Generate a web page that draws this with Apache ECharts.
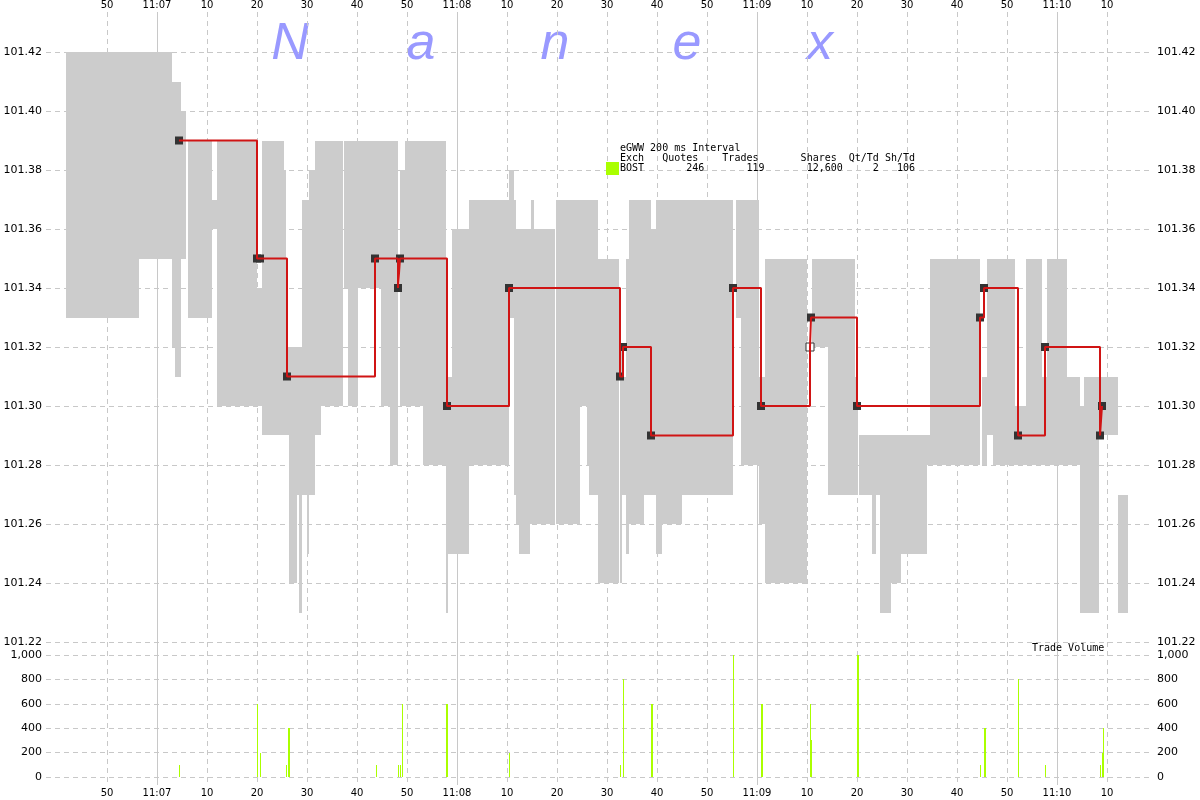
<!DOCTYPE html>
<html><head><meta charset="utf-8">
<script src="https://cdn.jsdelivr.net/npm/echarts@6/dist/echarts.min.js"></script>
<style>html,body{margin:0;padding:0;background:#fff}#c{width:1200px;height:800px}</style>
</head><body><div id="c"></div>
<script>
// time values are seconds after 11:06:00
const timeMin = 37.8, timeMax = 259.0;
const timeTicks = [50,60,70,80,90,100,110,120,130,140,150,160,170,180,190,200,210,220,230,240,250];

// BOST quote (bid/ask) bands
const quoteStart = [41.8,56.4,63.0,63.6,64.8,66.2,71.0,72.0,80.0,81.0,85.4,85.8,86.4,88.0,88.4,89.0,90.0,90.4,91.6,92.8,97.4,98.2,100.2,104.8,106.6,108.6,109.6,113.2,117.8,118.2,119.0,122.4,130.4,131.4,131.8,132.4,134.6,134.8,135.4,139.8,144.6,146.0,146.4,148.2,152.6,153.0,153.8,154.4,157.4,158.8,159.8,161.0,165.0,175.8,176.8,180.4,181.6,191.0,194.2,199.6,200.4,203.0,203.8,204.6,206.8,208.8,214.0,214.6,225.0,226.0,227.2,231.6,233.8,237.0,238.0,242.0,244.6,245.4,248.4,252.2];
const quoteEnd   = [56.4,63.0,63.6,64.8,65.8,71.0,72.0,80.0,81.0,85.4,85.8,86.4,88.0,88.4,89.0,90.0,90.4,91.6,92.8,97.2,98.2,100.2,104.8,106.6,108.2,109.6,113.2,117.8,118.2,119.0,122.4,130.4,131.4,131.8,132.4,134.6,134.8,135.4,139.6,144.6,146.0,146.4,148.2,152.4,153.0,153.8,154.4,157.4,158.8,159.8,161.0,165.0,175.2,176.8,180.4,181.6,190.0,194.2,199.6,200.2,203.0,203.8,204.6,206.8,208.8,214.0,214.6,224.6,226.0,227.2,231.6,233.8,237.0,238.0,242.0,244.6,245.4,248.4,252.2,254.2];
const quoteLow   = [101.33,101.35,101.32,101.31,101.35,101.33,101.36,101.30,101.30,101.29,101.29,101.29,101.24,101.27,101.23,101.27,101.25,101.27,101.29,101.30,101.34,101.30,101.34,101.30,101.28,101.30,101.30,101.28,101.23,101.25,101.25,101.28,101.33,101.27,101.26,101.25,101.26,101.26,101.26,101.26,101.30,101.28,101.27,101.24,101.24,101.27,101.25,101.26,101.27,101.27,101.25,101.26,101.27,101.33,101.28,101.26,101.24,101.32,101.27,101.27,101.27,101.25,101.27,101.23,101.24,101.25,101.28,101.28,101.28,101.29,101.28,101.28,101.28,101.28,101.28,101.28,101.23,101.23,101.29,101.23];
const quoteHigh  = [101.42,101.42,101.41,101.41,101.40,101.39,101.37,101.39,101.34,101.39,101.38,101.32,101.32,101.32,101.32,101.37,101.37,101.38,101.39,101.39,101.39,101.39,101.39,101.39,101.39,101.38,101.39,101.39,101.31,101.31,101.36,101.37,101.38,101.37,101.36,101.36,101.36,101.37,101.36,101.37,101.37,101.37,101.37,101.35,101.32,101.31,101.35,101.37,101.37,101.36,101.37,101.37,101.37,101.37,101.37,101.31,101.35,101.35,101.35,101.31,101.29,101.29,101.29,101.29,101.29,101.29,101.29,101.35,101.31,101.35,101.35,101.30,101.35,101.31,101.35,101.31,101.30,101.31,101.31,101.27];

// trades
const tradeTime  = [64.4,80.0,80.6,86.0,103.6,108.2,108.6,118.0,130.4,152.6,153.2,158.8,175.2,180.8,190.6,190.8,200.0,224.6,225.4,232.2,237.6,248.6,249.0];
const tradePrice = [101.39,101.35,101.35,101.31,101.35,101.34,101.35,101.30,101.34,101.31,101.32,101.29,101.34,101.30,101.32,101.33,101.30,101.33,101.34,101.29,101.32,101.29,101.30];
const hollowTrades = [14];

// trade volume bars
const volTime  = [64.4,80.0,80.6,85.8,86.2,86.4,103.8,108.2,108.6,109.0,117.8,118.0,130.4,152.6,153.2,158.8,159.0,175.2,180.8,181.0,190.6,190.8,200.0,200.2,224.6,225.4,225.6,232.2,237.6,248.6,249.0,249.2];
const volShares= [100,600,200,100,400,400,100,100,100,600,600,600,200,100,800,600,600,1000,600,600,600,300,1000,1000,100,400,400,800,100,100,200,400];

const chart = echarts.init(document.getElementById('c'), null, {renderer:'canvas'});

function fmtTime(v){
  v = Math.round(v);
  if (v % 60 === 0) return '11:' + String(6 + v/60).padStart(2,'0');
  return String(v % 60);
}
const GRID_C = '#c8c8c8';
const DASH = [5,4];
const AXIS_FONT = {fontFamily:'DejaVu Sans', fontSize:11, color:'#000'};

const quoteData = quoteStart.map((s,i)=>[s, quoteEnd[i], quoteLow[i], quoteHigh[i]]);
const tradeData = tradeTime.map((t,i)=>[t, tradePrice[i]]);
const markerData = tradeTime.map((t,i)=> hollowTrades.includes(i)
  ? {value:[t, tradePrice[i]], itemStyle:{color:'#ffffff', borderColor:'#333333', borderWidth:1}}
  : {value:[t, tradePrice[i]]});
const volData = volTime.map((t,i)=>[t, volShares[i]]);

const letters = ['N','a','n','e','x'];
const letterX = [290,421,555,687,820];

const option = {
  animation:false,
  backgroundColor:'#ffffff',
  grid:[
    {left:46, right:48, top:52, height:590},   // price
    {left:46, right:48, top:655, height:122},  // volume
    {left:46, right:48, top:12, height:773}    // background time grid
  ],
  xAxis:[
    {gridIndex:0, type:'value', min:timeMin, max:timeMax, show:false},
    {gridIndex:1, type:'value', min:timeMin, max:timeMax, show:false},
    {gridIndex:2, type:'value', min:timeMin, max:timeMax, position:'top',
      axisLine:{show:false}, axisTick:{show:false}, splitLine:{show:false},
      axisLabel:{customValues:timeTicks, formatter:fmtTime, margin:2, fontFamily:'DejaVu Sans', fontSize:10, color:'#000'}},
    {gridIndex:2, type:'value', min:timeMin, max:timeMax, position:'bottom',
      axisLine:{show:false}, axisTick:{show:false}, splitLine:{show:false},
      axisLabel:{customValues:timeTicks, formatter:fmtTime, margin:3, fontFamily:'DejaVu Sans', fontSize:10, color:'#000'}}
  ],
  yAxis:[
    {gridIndex:0, type:'value', min:101.22, max:101.42, interval:0.02, position:'left',
      axisLine:{show:false}, axisTick:{show:false},
      splitLine:{show:true, lineStyle:{color:GRID_C, type:DASH}},
      axisLabel:Object.assign({margin:4, formatter:v=>v.toFixed(2)}, AXIS_FONT)},
    {gridIndex:0, type:'value', min:101.22, max:101.42, interval:0.02, position:'right',
      axisLine:{show:false}, axisTick:{show:false}, splitLine:{show:false},
      axisLabel:Object.assign({margin:5, formatter:v=>v.toFixed(2)}, AXIS_FONT)},
    {gridIndex:1, type:'value', min:0, max:1000, interval:200, position:'left',
      axisLine:{show:false}, axisTick:{show:false},
      splitLine:{show:true, lineStyle:{color:GRID_C, type:DASH}},
      axisLabel:Object.assign({margin:4, formatter:v=>v.toLocaleString('en-US')}, AXIS_FONT)},
    {gridIndex:1, type:'value', min:0, max:1000, interval:200, position:'right',
      axisLine:{show:false}, axisTick:{show:false}, splitLine:{show:false},
      axisLabel:Object.assign({margin:5, formatter:v=>v.toLocaleString('en-US')}, AXIS_FONT)},
    {gridIndex:2, type:'value', min:0, max:1, show:false}
  ],
  graphic:[
    ...letters.map((l,i)=>({type:'text', x:letterX[i], y:45, z:1,
      style:{text:l, font:'italic 52px "Liberation Sans"', fill:'#9999ff', align:'center', verticalAlign:'middle'}})),
    {type:'text', left:620, top:143, z:10, style:{text:'eGWW 200 ms Interval', font:'10px "DejaVu Sans Mono"', fill:'#000'}},
    {type:'text', left:620, top:153, z:10, style:{text:'Exch   Quotes    Trades       Shares  Qt/Td Sh/Td', font:'10px "DejaVu Sans Mono"', fill:'#000'}},
    {type:'text', left:620, top:163, z:10, style:{text:'BOST       246       119       12,600     2   106', font:'10px "DejaVu Sans Mono"', fill:'#000'}},
    {type:'rect', left:606, top:162, z:10, shape:{width:13, height:13}, style:{fill:'#aaff00'}},
    {type:'text', left:1032, top:643, z:10, style:{text:'Trade Volume', font:'10px "DejaVu Sans Mono"', fill:'#000'}}
  ],
  series:[
    {type:'custom', xAxisIndex:2, yAxisIndex:4, z:1, silent:true, data:timeTicks,
      renderItem:(params, api)=>{
        const v = api.value(0);
        const x = Math.round(api.coord([v, 0])[0]) + 0.5;
        const cs = params.coordSys;
        return {type:'line', shape:{x1:x, y1:cs.y, x2:x, y2:cs.y+cs.height},
          style:{stroke:GRID_C, lineWidth:1, lineDash: (Math.round(v)%60===0) ? null : DASH}};
      }},
    {type:'custom', xAxisIndex:0, yAxisIndex:0, z:2, silent:true, data:quoteData,
      encode:{x:[0,1], y:[2,3]},
      renderItem:(params, api)=>{
        const p0 = api.coord([api.value(0), api.value(3)]);
        const p1 = api.coord([api.value(1), api.value(2)]);
        const x0 = Math.round(p0[0]), x1 = Math.round(p1[0]);
        const y0 = Math.round(p0[1]), y1 = Math.round(p1[1]);
        return {type:'rect', shape:{x:x0, y:y0, width:Math.max(1,x1-x0), height:y1-y0}, style:{fill:'#cccccc'}};
      }},
    {type:'scatter', xAxisIndex:0, yAxisIndex:0, z:3, silent:true, data:markerData,
      symbol:'rect', symbolSize:8, itemStyle:{color:'#333333', opacity:1}},
    {type:'line', xAxisIndex:0, yAxisIndex:0, z:4, silent:true, data:tradeData, step:'end',
      showSymbol:false, lineStyle:{color:'#d01414', width:2}},
    {type:'custom', xAxisIndex:1, yAxisIndex:2, z:2, silent:true, data:volData,
      renderItem:(params, api)=>{
        const p = api.coord([api.value(0), api.value(1)]);
        const b = api.coord([api.value(0), 0]);
        const x = Math.round(p[0]);
        return {type:'rect', shape:{x:x, y:Math.round(p[1]), width:1, height:Math.round(b[1])-Math.round(p[1])}, style:{fill:'#aaff00'}};
      }}
  ]
};
chart.setOption(option);
</script>
</body></html>
